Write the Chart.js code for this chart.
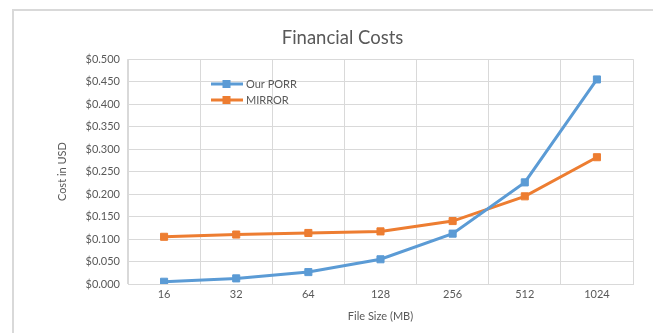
<!DOCTYPE html>
<html>
<head>
<meta charset="utf-8">
<script src="https://cdn.jsdelivr.net/npm/chart.js@4"></script>
<style>
html,body{margin:0;padding:0;background:#fff;overflow:hidden;}
#frame{position:absolute;left:12px;top:9px;width:700px;height:400px;border:2px solid #d9d9d9;box-sizing:border-box;}
#c{position:absolute;left:0;top:0;}
</style>
</head>
<body>
<div id="frame"></div>
<canvas id="c" width="653" height="333"></canvas>
<script>
const categories = ["16", "32", "64", "128", "256", "512", "1024"];
const porrValues = [0.005, 0.0125, 0.0265, 0.055, 0.112, 0.226, 0.455];
const mirrorValues = [0.105, 0.110, 0.1135, 0.117, 0.140, 0.195, 0.282];
const seriesLabels = ["Our PORR", "MIRROR"];
const titleText = "Financial Costs";
const xTitle = "File Size (MB)";
const yTitle = "Cost in USD";

const FONT = "Lato";
const TXT = "#595959";

const legendPlugin = {
  id: 'insideLegend',
  afterDatasetsDraw(chart) {
    const ctx = chart.ctx;
    const x0 = 211, x1 = 243;
    const ys = [84, 100];
    chart.data.datasets.forEach((ds, i) => {
      const y = ys[i];
      ctx.save();
      ctx.strokeStyle = ds.borderColor;
      ctx.lineWidth = 3;
      ctx.beginPath();
      ctx.moveTo(x0, y);
      ctx.lineTo(x1, y);
      ctx.stroke();
      ctx.fillStyle = ds.backgroundColor;
      ctx.fillRect(222.5, y - 4, 8, 8);
      ctx.fillStyle = TXT;
      ctx.font = "11px " + FONT;
      ctx.textBaseline = "middle";
      ctx.textAlign = "left";
      ctx.fillText(ds.label, 246, y);
      ctx.restore();
    });
  }
};

new Chart(document.getElementById('c'), {
  type: 'line',
  data: {
    labels: categories,
    datasets: [
      {
        label: seriesLabels[0],
        data: porrValues,
        borderColor: '#5B9BD5',
        backgroundColor: '#5B9BD5',
        borderWidth: 3,
        pointStyle: 'rect',
        pointRadius: 5,
        pointBorderWidth: 1,
        tension: 0
      },
      {
        label: seriesLabels[1],
        data: mirrorValues,
        borderColor: '#ED7D31',
        backgroundColor: '#ED7D31',
        borderWidth: 3,
        pointStyle: 'rect',
        pointRadius: 5,
        pointBorderWidth: 1,
        tension: 0
      }
    ]
  },
  options: {
    responsive: false,
    animation: false,
    layout: { padding: { left: 52, right: 20, top: 0, bottom: 6 } },
    plugins: {
      legend: { display: false },
      tooltip: { enabled: false },
      title: {
        display: true,
        text: titleText,
        color: TXT,
        font: { family: FONT, size: 18.5, weight: 'normal' },
        padding: { top: 27, bottom: 10 }
      }
    },
    scales: {
      x: {
        offset: true,
        grid: { offset: true, color: '#d9d9d9', drawTicks: false, lineWidth: 1 },
        border: { color: '#d9d9d9' },
        ticks: { color: TXT, font: { family: FONT, size: 11 }, padding: 4 },
        title: { display: true, text: xTitle, color: TXT, font: { family: FONT, size: 11 }, padding: { top: 4, bottom: 4 } },
        afterFit(s) { s.height = 43; }
      },
      y: {
        min: 0,
        max: 0.5,
        grid: { color: '#d9d9d9', drawTicks: false },
        border: { color: '#d9d9d9' },
        ticks: {
          stepSize: 0.05,
          color: TXT,
          font: { family: FONT, size: 11 },
          padding: 8,
          callback: v => '$' + Number(v).toFixed(3)
        },
        title: { display: true, text: yTitle, color: TXT, font: { family: FONT, size: 11 }, padding: { top: 4, bottom: 4 } },
        afterFit(s) { s.width = 76; }
      }
    }
  },
  plugins: [legendPlugin]
});
</script>
</body>
</html>
